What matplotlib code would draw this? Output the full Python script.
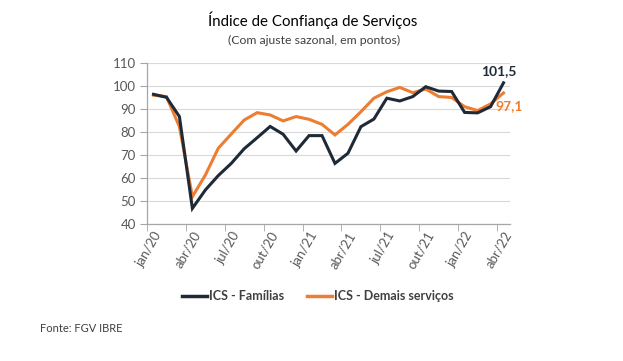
import matplotlib
matplotlib.use("Agg")
import matplotlib.pyplot as plt
from matplotlib.lines import Line2D

plt.rcParams['font.family'] = ['Lato', 'DejaVu Sans']

months = ["jan/20","fev/20","mar/20","abr/20","mai/20","jun/20","jul/20","ago/20","set/20","out/20","nov/20","dez/20",
          "jan/21","fev/21","mar/21","abr/21","mai/21","jun/21","jul/21","ago/21","set/21","out/21","nov/21","dez/21",
          "jan/22","fev/22","mar/22","abr/22"]
familias = [96.5, 95.2, 86.8, 46.8, 54.8, 61.1, 66.4, 72.8, 77.6, 82.5, 79.1, 71.8,
            78.5, 78.5, 66.4, 70.8, 82.4, 85.7, 94.8, 93.6, 95.5, 99.8, 97.9, 97.7,
            88.6, 88.4, 91.1, 101.5]
demais = [96.1, 95.5, 82.4, 51.9, 61.3, 73.0, 79.2, 85.3, 88.5, 87.5, 84.9, 86.8,
          85.6, 83.4, 78.8, 83.4, 88.9, 94.8, 97.6, 99.5, 97.2, 98.8, 95.5, 95.1,
          91.1, 89.4, 92.3, 97.1]
yticks = [40, 50, 60, 70, 80, 90, 100, 110]

c_fam = "#1f2a36"
c_dem = "#ed7d31"
gray = "#595959"

fig = plt.figure(figsize=(6.23, 3.61), dpi=100)
ax = fig.add_axes([147/623, 1-224/361, (510-147)/623, (224-63.3)/361])

x = list(range(len(months)))
ax.plot(x, familias, color=c_fam, lw=2.2, solid_joinstyle='miter', zorder=3)
ax.plot(x, demais, color=c_dem, lw=2.2, solid_joinstyle='miter', zorder=2)

ax.set_xlim(-0.5, len(months)-0.5)
ax.set_ylim(40, 110)
ax.set_yticks(yticks)
ax.set_yticklabels([str(v) for v in yticks], fontsize=9.5, color=gray)
ax.yaxis.grid(True, color="#d9d9d9", lw=0.8)
ax.set_axisbelow(True)

lab_idx = list(range(0, len(months), 3))
ax.set_xticks(lab_idx)
ax.set_xticklabels([months[i] for i in lab_idx], rotation=60, ha='right', rotation_mode='anchor',
                   fontsize=9.5, color=gray)
ax.tick_params(axis='x', length=0, pad=4)
ax.set_xticks([i - 0.5 for i in range(0, len(months)+1, 3)], minor=True)
ax.tick_params(axis='x', which='minor', length=5, color="#a6a6a6", direction='out')
ax.tick_params(axis='y', length=5, color="#a6a6a6", pad=3)

for s in ['top', 'right']:
    ax.spines[s].set_visible(False)
for s in ['left', 'bottom']:
    ax.spines[s].set_color("#a6a6a6")
    ax.spines[s].set_linewidth(0.9)

ax.annotate("101,5", xy=(27, familias[-1]), xytext=(-3.6, 4.3), textcoords='offset points',
            ha='center', va='bottom', fontsize=10, fontweight='bold', color=c_fam)
ax.annotate("97,1", xy=(27, demais[-1]), xytext=(-6, -9.5), textcoords='offset points',
            ha='left', va='center', fontsize=10, fontweight='bold', color=c_dem)

fig.text(313/623, 1-20/361, "Índice de Confiança de Serviços", ha='center', va='center',
         fontsize=10.8, color="#000000")
fig.text(314/623, 1-40/361, "(Com ajuste sazonal, em pontos)", ha='center', va='center',
         fontsize=8.8, color="#404040")

handles = [Line2D([0], [0], color=c_fam, lw=2.5), Line2D([0], [0], color=c_dem, lw=2.5)]
fig.legend(handles, ["ICS - Famílias", "ICS - Demais serviços"], loc='center',
           bbox_to_anchor=(318/623, 1-296/361), ncol=2, frameon=False,
           prop={'weight': 'bold', 'size': 9}, labelcolor="#404040",
           handlelength=2.0, handletextpad=0.2, columnspacing=1.8)

fig.text(40/623, 1-328/361, "Fonte: FGV IBRE", ha='left', va='center', fontsize=8, color="#404040")

fig.savefig("out.png", dpi=100)
